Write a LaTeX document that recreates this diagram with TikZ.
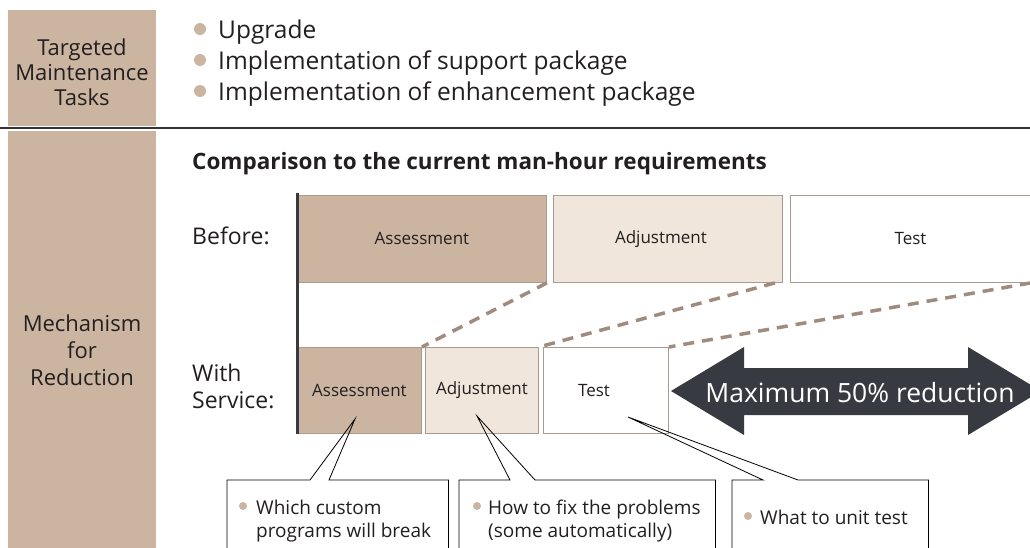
\documentclass[tikz,border=0pt]{standalone}
\usepackage{fontspec}
\setmainfont{Open Sans}
\usetikzlibrary{calc}
\definecolor{tanfill}{HTML}{CBB5A1}
\definecolor{lightfill}{HTML}{F0E6DC}
\definecolor{boxline}{HTML}{A89A8E}
\definecolor{dashcol}{HTML}{A08C7E}
\definecolor{arrowcol}{HTML}{373B41}
\definecolor{txt}{HTML}{231F20}
\begin{document}
\begin{tikzpicture}[x=1pt,y=-1pt,
  every node/.style={text=txt},
  label/.style={font=\fontsize{22}{25}\selectfont, align=center},
  bullettext/.style={font=\fontsize{24.5}{30}\selectfont, anchor=base west, inner sep=0pt},
  rowlabel/.style={font=\fontsize{23}{26}\selectfont, anchor=base west, inner sep=0pt},
  stagebox/.style={draw=boxline, line width=0.9pt, anchor=north west, inner sep=0pt, font=\fontsize{17}{20}\selectfont},
  zoomline/.style={draw=dashcol, line width=3.5pt, dash pattern=on 11pt off 8pt},
  callbox/.style={anchor=north west, inner sep=0pt},
  calltext/.style={font=\fontsize{19}{23}\selectfont, anchor=base west, inner sep=0pt, align=left},
  connector/.style={draw=black, line width=0.8pt}
]
\useasboundingbox (0,0) rectangle (1030,547);
\clip (0,0) rectangle (1030,547);
\fill[white] (0,0) rectangle (1030,547);

% left column
\fill[tanfill] (8,10) rectangle (156,126);
\fill[tanfill] (8,131) rectangle (156,560);
\draw[line width=1.2pt, color=black!80] (0,128) -- (1030,128);
\node[label] (lt) at (82,72) {Targeted\\Maintenance\\Tasks};
\node[label, font=\fontsize{22}{27}\selectfont] (lm) at (82,350) {Mechanism\\for\\Reduction};

% top bullets
\foreach \yb/\t [count=\i] in {38/Upgrade, 69/Implementation of support package, 100/Implementation of enhancement package}{
  \fill[tanfill] (200,\yb-9) circle (6pt);
  \node[bullettext] (b\i) at (218,\yb) {\t};
}

% title
\node[font=\bfseries\fontsize{22.5}{26}\selectfont, anchor=base west, inner sep=0pt] (title) at (192,169) {Comparison to the current man-hour requirements};

% row labels
\node[rowlabel] (before) at (192,244) {Before:};
\node[rowlabel] (with) at (192,381) {With};
\node[rowlabel] (service) at (192,408) {Service:};

% before boxes
\node[stagebox, fill=tanfill, minimum width=249pt, minimum height=87pt] (bAss) at (297,195) {Assessment};
\node[stagebox, fill=lightfill, minimum width=229pt, minimum height=87pt] (bAdj) at (553,195) {\hspace*{-14pt}Adjustment};
\node[stagebox, fill=white, minimum width=250pt, minimum height=87pt] (bTest) at (790,195) {\hspace*{-10pt}Test};

% with service boxes
\node[stagebox, fill=tanfill, minimum width=124pt, minimum height=86pt] (wAss) at (297,347) {Assessment};
\node[stagebox, fill=lightfill, minimum width=113pt, minimum height=86pt] (wAdj) at (425,347) {Adjustment};
\node[stagebox, fill=white, minimum width=125pt, minimum height=86pt] (wTest) at (543,347) {\hspace*{-24pt}Test};

% axis
\coordinate (axTop) at (297,193);
\coordinate (axBot) at (297,434);
\draw[line width=3pt, color=arrowcol] (axTop) -- (axBot);

% dashed zoom lines
\draw[zoomline] (bAss.south east) -- (wAss.north east);
\draw[zoomline] ($(bAdj.south east)+(-8,0)$) -- (wAdj.north east);
\draw[zoomline] ($(bTest.south east)+(-10,0)$) -- (wTest.north east);

% big double arrow
\fill[arrowcol] (671,391) -- (744,347) -- (744,368) -- (968,368) -- (968,347) -- (1041,391)
  -- (968,435) -- (968,415) -- (744,415) -- (744,435) -- cycle;
\node[text=white, font=\fontsize{26.5}{30}\selectfont, anchor=base, inner sep=0pt] (red) at (860,402) {Maximum 50\% reduction};

% callouts
\node[callbox, minimum width=221pt, minimum height=80pt] (c1) at (227,480) {};
\node[callbox, minimum width=256pt, minimum height=80pt] (c2) at (459,480) {};
\node[callbox, minimum width=196pt, minimum height=80pt] (c3) at (732,480) {};
\coordinate (t1) at (355,419);
\coordinate (t2) at (477,416);
\coordinate (t3) at (628,417);
\draw[connector] (c1.south west) -- (c1.north west) -- ($(c1.north west)+(83,0)$) -- (t1) -- ($(c1.north west)+(102,0)$) -- (c1.north east) -- (c1.south east);
\draw[connector] (c2.south west) -- (c2.north west) -- ($(c2.north west)+(51,0)$) -- (t2) -- ($(c2.north west)+(76,0)$) -- (c2.north east) -- (c2.south east);
\draw[connector] (c3.south west) -- (c3.north west) -- ($(c3.north west)+(31,0)$) -- (t3) -- ($(c3.north west)+(66,0)$) -- (c3.north east) -- (c3.south east);

\fill[tanfill] (243,506) circle (4pt);
\node[calltext] (ct1) at (256,537) {Which custom\\programs will break};
\fill[tanfill] (477,506) circle (4pt);
\node[calltext] (ct2) at (488,537) {How to fix the problems\\(some automatically)};
\fill[tanfill] (748,516) circle (4pt);
\node[calltext] (ct3) at (760,524) {What to unit test};
\end{tikzpicture}
\end{document}
